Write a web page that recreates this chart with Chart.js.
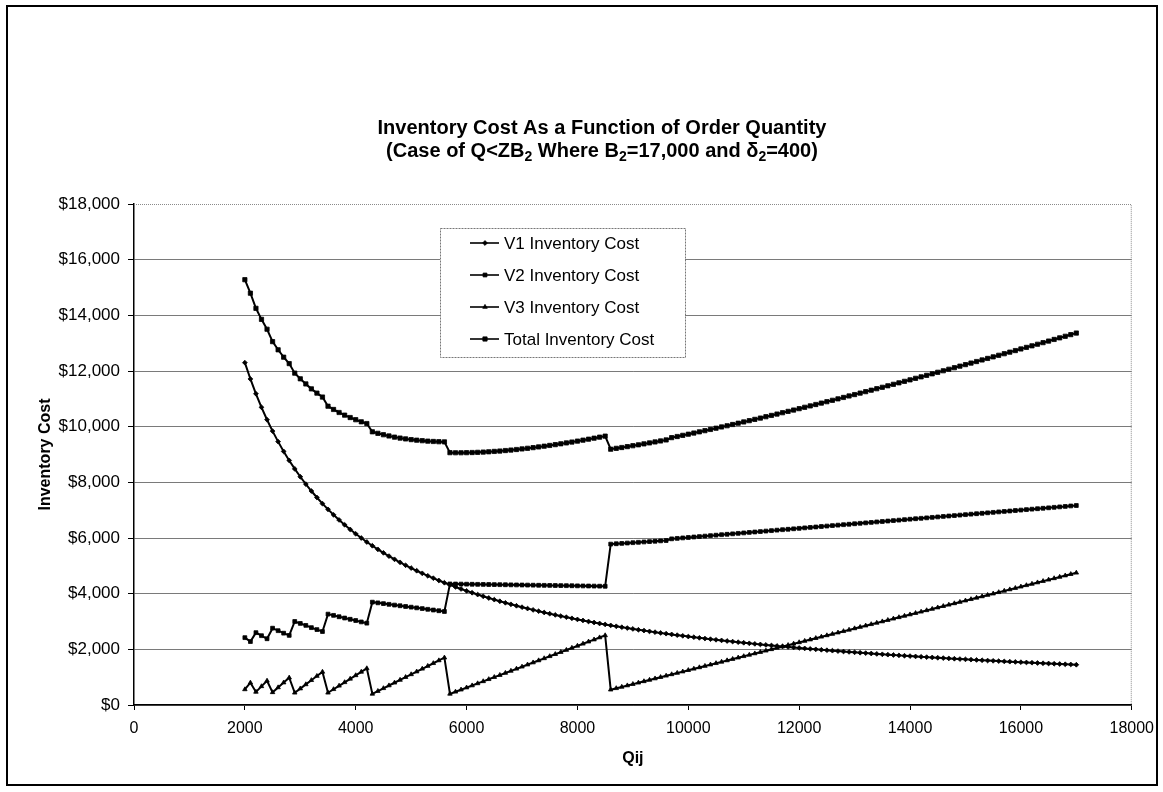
<!DOCTYPE html>
<html>
<head>
<meta charset="utf-8">
<title>Inventory Cost As a Function of Order Quantity</title>
<script src="https://cdn.jsdelivr.net/npm/chart.js@4.4.1/dist/chart.umd.min.js"></script>
<style>
  html, body { margin: 0; padding: 0; background: #fff; overflow: hidden; }
  #wrap { width: 1163px; height: 792px; }
</style>
</head>
<body>
<div id="wrap"><canvas id="costChart" width="1163" height="792"></canvas></div>
<script>
// Order quantity Qij
const qty = [
  2000, 2100, 2200, 2300, 2400, 2500, 2600, 2700, 2800, 2900,
  3000, 3100, 3200, 3300, 3400, 3500, 3600, 3700, 3800, 3900,
  4000, 4100, 4200, 4300, 4400, 4500, 4600, 4700, 4800, 4900,
  5000, 5100, 5200, 5300, 5400, 5500, 5600, 5700, 5800, 5900,
  6000, 6100, 6200, 6300, 6400, 6500, 6600, 6700, 6800, 6900,
  7000, 7100, 7200, 7300, 7400, 7500, 7600, 7700, 7800, 7900,
  8000, 8100, 8200, 8300, 8400, 8500, 8600, 8700, 8800, 8900,
  9000, 9100, 9200, 9300, 9400, 9500, 9600, 9700, 9800, 9900,
  10000, 10100, 10200, 10300, 10400, 10500, 10600, 10700, 10800, 10900,
  11000, 11100, 11200, 11300, 11400, 11500, 11600, 11700, 11800, 11900,
  12000, 12100, 12200, 12300, 12400, 12500, 12600, 12700, 12800, 12900,
  13000, 13100, 13200, 13300, 13400, 13500, 13600, 13700, 13800, 13900,
  14000, 14100, 14200, 14300, 14400, 14500, 14600, 14700, 14800, 14900,
  15000, 15100, 15200, 15300, 15400, 15500, 15600, 15700, 15800, 15900,
  16000, 16100, 16200, 16300, 16400, 16500, 16600, 16700, 16800, 16900,
  17000
];

// Inventory cost per vendor ($)
const v1Cost = [
  12300, 11714, 11182, 10696, 10250, 9840, 9462, 9111, 8786, 8483,
  8200, 7935, 7688, 7455, 7235, 7029, 6833, 6649, 6474, 6308,
  6150, 6000, 5857, 5721, 5591, 5467, 5348, 5234, 5125, 5020,
  4920, 4824, 4731, 4642, 4556, 4473, 4393, 4316, 4241, 4169,
  4100, 4033, 3968, 3905, 3844, 3785, 3727, 3672, 3618, 3565,
  3514, 3465, 3417, 3370, 3324, 3280, 3237, 3195, 3154, 3114,
  3075, 3037, 3000, 2964, 2929, 2894, 2860, 2828, 2795, 2764,
  2733, 2703, 2674, 2645, 2617, 2589, 2563, 2536, 2510, 2485,
  2460, 2436, 2412, 2388, 2365, 2343, 2321, 2299, 2278, 2257,
  2236, 2216, 2196, 2177, 2158, 2139, 2121, 2103, 2085, 2067,
  2050, 2033, 2016, 2000, 1984, 1968, 1952, 1937, 1922, 1907,
  1892, 1878, 1864, 1850, 1836, 1822, 1809, 1796, 1783, 1770,
  1757, 1745, 1732, 1720, 1708, 1697, 1685, 1673, 1662, 1651,
  1640, 1629, 1618, 1608, 1597, 1587, 1577, 1567, 1557, 1547,
  1538, 1528, 1519, 1509, 1500, 1491, 1482, 1473, 1464, 1456,
  1447
];

const v2Cost = [
  2420, 2280, 2600, 2490, 2380, 2760, 2670, 2580, 2500, 3000,
  2930, 2860, 2780, 2710, 2640, 3265, 3220, 3170, 3125, 3080,
  3035, 2985, 2940, 3695, 3670, 3643, 3617, 3590, 3565, 3540,
  3515, 3490, 3465, 3438, 3412, 3386, 3360, 4350, 4347, 4344,
  4341, 4338, 4335, 4332, 4329, 4326, 4323, 4320, 4317, 4314,
  4311, 4308, 4305, 4302, 4299, 4296, 4293, 4290, 4287, 4284,
  4281, 4278, 4275, 4272, 4269, 4266, 5780, 5793, 5806, 5819,
  5832, 5845, 5858, 5871, 5884, 5897, 5910, 5970, 5986, 6003,
  6019, 6036, 6052, 6068, 6085, 6101, 6118, 6134, 6150, 6167,
  6183, 6200, 6216, 6232, 6249, 6265, 6282, 6298, 6314, 6331,
  6347, 6364, 6380, 6396, 6413, 6429, 6446, 6462, 6478, 6495,
  6511, 6528, 6544, 6560, 6577, 6593, 6610, 6626, 6642, 6659,
  6675, 6692, 6708, 6724, 6741, 6757, 6774, 6790, 6806, 6823,
  6839, 6856, 6872, 6888, 6905, 6921, 6938, 6954, 6970, 6987,
  7003, 7020, 7036, 7052, 7069, 7085, 7102, 7118, 7134, 7151,
  7167
];

const v3Cost = [
  560, 800, 470, 670, 870, 455, 630, 805, 980, 440,
  590, 740, 890, 1040, 1190, 440, 565, 690, 815, 940,
  1065, 1190, 1315, 400, 500, 600, 700, 800, 900, 1000,
  1100, 1200, 1300, 1400, 1500, 1600, 1700, 400, 475, 550,
  625, 700, 775, 850, 925, 1000, 1075, 1150, 1225, 1300,
  1375, 1450, 1525, 1600, 1675, 1750, 1825, 1900, 1975, 2050,
  2125, 2200, 2275, 2350, 2425, 2500, 550, 600, 650, 700,
  750, 800, 850, 900, 950, 1000, 1050, 1100, 1150, 1200,
  1250, 1300, 1350, 1400, 1450, 1500, 1550, 1600, 1650, 1700,
  1750, 1800, 1850, 1900, 1950, 2000, 2050, 2100, 2150, 2200,
  2250, 2300, 2350, 2400, 2450, 2500, 2550, 2600, 2650, 2700,
  2750, 2800, 2850, 2900, 2950, 3000, 3050, 3100, 3150, 3200,
  3250, 3300, 3350, 3400, 3450, 3500, 3550, 3600, 3650, 3700,
  3750, 3800, 3850, 3900, 3950, 4000, 4050, 4100, 4150, 4200,
  4250, 4300, 4350, 4400, 4450, 4500, 4550, 4600, 4650, 4700,
  4750
];

const totalCost = [
  15280, 14794, 14252, 13856, 13500, 13055, 12762, 12496, 12266, 11923,
  11720, 11535, 11358, 11205, 11065, 10734, 10618, 10509, 10414, 10328,
  10250, 10175, 10112, 9816, 9761, 9710, 9665, 9624, 9590, 9560,
  9535, 9514, 9496, 9480, 9468, 9459, 9453, 9066, 9063, 9063,
  9066, 9071, 9078, 9087, 9098, 9111, 9125, 9142, 9160, 9179,
  9200, 9223, 9247, 9272, 9298, 9326, 9355, 9385, 9416, 9448,
  9481, 9515, 9550, 9586, 9623, 9660, 9190, 9221, 9251, 9283,
  9315, 9348, 9382, 9416, 9451, 9486, 9523, 9606, 9646, 9688,
  9729, 9772, 9814, 9856, 9900, 9944, 9989, 10033, 10078, 10124,
  10169, 10216, 10262, 10309, 10357, 10404, 10453, 10501, 10549, 10598,
  10647, 10697, 10746, 10796, 10847, 10897, 10948, 10999, 11050, 11102,
  11153, 11206, 11258, 11310, 11363, 11415, 11469, 11522, 11575, 11629,
  11682, 11737, 11790, 11844, 11899, 11954, 12009, 12063, 12118, 12174,
  12229, 12285, 12340, 12396, 12452, 12508, 12565, 12621, 12677, 12734,
  12791, 12848, 12905, 12961, 13019, 13076, 13134, 13191, 13248, 13307,
  13364
];

const seriesLabels = ['V1 Inventory Cost', 'V2 Inventory Cost', 'V3 Inventory Cost', 'Total Inventory Cost'];

// Title lines, split into runs so the subscripts can be set smaller
const titleLines = [
  [{ text: 'Inventory Cost As a Function of Order Quantity' }],
  [
    { text: '(Case of Q<ZB' }, { text: '2', sub: true },
    { text: ' Where B' }, { text: '2', sub: true },
    { text: '=17,000 and \u03B4' }, { text: '2', sub: true },
    { text: '=400)' }
  ]
];

const FONT = "'Liberation Sans', Arial, Helvetica, sans-serif";

function toPoints(values) {
    return values.map((v, i) => ({ x: qty[i], y: v }));
}

function makeDataset(label, values, pointStyle, radius) {
    return {
        label: label,
        data: toPoints(values),
        borderColor: '#000',
        borderWidth: 2,
        backgroundColor: '#000',
        pointBackgroundColor: '#000',
        pointBorderColor: '#000',
        pointBorderWidth: 0.8,
        pointStyle: pointStyle,
        pointRadius: radius,
        tension: 0,
        fill: false
    };
}

// White page with the black outer frame
const pageFrame = {
    id: 'pageFrame',
    beforeDraw(chart) {
        const ctx = chart.ctx;
        ctx.save();
        ctx.fillStyle = '#fff';
        ctx.fillRect(0, 0, chart.width, chart.height);
        ctx.strokeStyle = '#000';
        ctx.lineWidth = 2;
        ctx.strokeRect(7, 6, 1150, 779);
        ctx.restore();
    }
};

// Dotted top/right edge of the plot area
const plotBorder = {
    id: 'plotBorder',
    beforeDatasetsDraw(chart) {
        const { ctx, chartArea: a } = chart;
        ctx.save();
        ctx.strokeStyle = '#8a8a8a';
        ctx.lineWidth = 1;
        ctx.setLineDash([1, 1]);
        ctx.beginPath();
        ctx.moveTo(a.left, a.top + 0.5);
        ctx.lineTo(a.right - 0.5, a.top + 0.5);
        ctx.lineTo(a.right - 0.5, a.bottom);
        ctx.stroke();
        ctx.restore();
    }
};

// Two line bold title with subscripts
const twoLineTitle = {
    id: 'twoLineTitle',
    afterDraw(chart) {
        const ctx = chart.ctx;
        const cx = 602;
        const size = 20;
        const baselines = [134, 157];
        const fontFor = p => `bold ${p.sub ? 14 : size}px ${FONT}`;
        ctx.save();
        ctx.fillStyle = '#000';
        ctx.textAlign = 'left';
        ctx.textBaseline = 'alphabetic';
        titleLines.forEach((parts, li) => {
            let w = 0;
            parts.forEach(p => { ctx.font = fontFor(p); w += ctx.measureText(p.text).width; });
            let x = cx - w / 2;
            parts.forEach(p => {
                ctx.font = fontFor(p);
                ctx.fillText(p.text, x, baselines[li] + (p.sub ? 4 : 0));
                x += ctx.measureText(p.text).width;
            });
        });
        ctx.restore();
    }
};

function drawMarker(ctx, style, radius, x, y) {
    if (Chart.helpers && Chart.helpers.drawPoint) {
        Chart.helpers.drawPoint(ctx, { pointStyle: style, radius: radius, rotation: 0, borderWidth: 0.8 }, x, y);
        return;
    }
    ctx.fillRect(x - radius, y - radius, radius * 2, radius * 2);
}

// Boxed legend sitting inside the plot area
const legendBox = {
    id: 'legendBox',
    afterDatasetsDraw(chart) {
        const ctx = chart.ctx;
        const box = { x: 440, y: 228, w: 245, h: 129 };
        ctx.save();
        ctx.fillStyle = '#fff';
        ctx.fillRect(box.x, box.y, box.w, box.h);
        ctx.strokeStyle = '#777';
        ctx.lineWidth = 1;
        ctx.setLineDash([2, 1]);
        ctx.strokeRect(box.x + 0.5, box.y + 0.5, box.w, box.h);
        ctx.setLineDash([]);
        ctx.font = `17px ${FONT}`;
        ctx.textBaseline = 'middle';
        ctx.textAlign = 'left';
        chart.data.datasets.forEach((ds, i) => {
            const y = box.y + 15 + i * 32;
            ctx.strokeStyle = '#000';
            ctx.lineWidth = 1.6;
            ctx.beginPath();
            ctx.moveTo(470, y);
            ctx.lineTo(499, y);
            ctx.stroke();
            ctx.fillStyle = '#000';
            ctx.lineWidth = 0.8;
            drawMarker(ctx, ds.pointStyle, ds.pointRadius, 485, y);
            ctx.fillText(ds.label, 504, y + 1);
        });
        ctx.restore();
    }
};

new Chart(document.getElementById('costChart'), {
    type: 'line',
    data: {
        datasets: [
            makeDataset(seriesLabels[0], v1Cost, 'rectRot', 2.4),
            makeDataset(seriesLabels[1], v2Cost, 'rect', 2.7),
            makeDataset(seriesLabels[2], v3Cost, 'triangle', 2.6),
            makeDataset(seriesLabels[3], totalCost, 'rect', 3)
        ]
    },
    options: {
        responsive: false,
        animation: false,
        layout: { padding: { top: 204, right: 31, left: 0, bottom: 0 } },
        plugins: {
            legend: { display: false },
            title: { display: false },
            tooltip: { enabled: false }
        },
        scales: {
            x: {
                type: 'linear',
                min: 0,
                max: 18000,
                afterFit: s => { s.height = 87; },
                ticks: {
                    stepSize: 2000,
                    padding: 9,
                    maxRotation: 0,
                    color: '#000',
                    font: { family: FONT, size: 16 },
                    callback: v => String(v)
                },
                grid: { drawOnChartArea: false, drawTicks: true, tickLength: 5, tickColor: '#000' },
                border: { color: '#000', width: 1.5 },
                title: {
                    display: true,
                    text: 'Qij',
                    color: '#000',
                    font: { family: FONT, size: 16, weight: 'bold' },
                    padding: { top: 0, bottom: 24 }
                }
            },
            y: {
                min: 0,
                max: 18000,
                afterFit: s => { s.width = 134; },
                ticks: {
                    stepSize: 2000,
                    padding: 8,
                    color: '#000',
                    font: { family: FONT, size: 17 },
                    callback: v => '$' + v.toLocaleString('en-US')
                },
                grid: {
                    color: c => (c.tick && c.tick.value === 18000) ? 'rgba(0,0,0,0)' : '#7a7a7a',
                    lineWidth: 1,
                    tickLength: 6,
                    tickColor: '#000'
                },
                border: { color: '#000', width: 1.5 },
                title: {
                    display: true,
                    text: 'Inventory Cost',
                    color: '#000',
                    font: { family: FONT, size: 16, weight: 'bold' },
                    padding: { top: 36, bottom: 0 }
                }
            }
        }
    },
    plugins: [pageFrame, plotBorder, legendBox, twoLineTitle]
});
</script>
</body>
</html>
